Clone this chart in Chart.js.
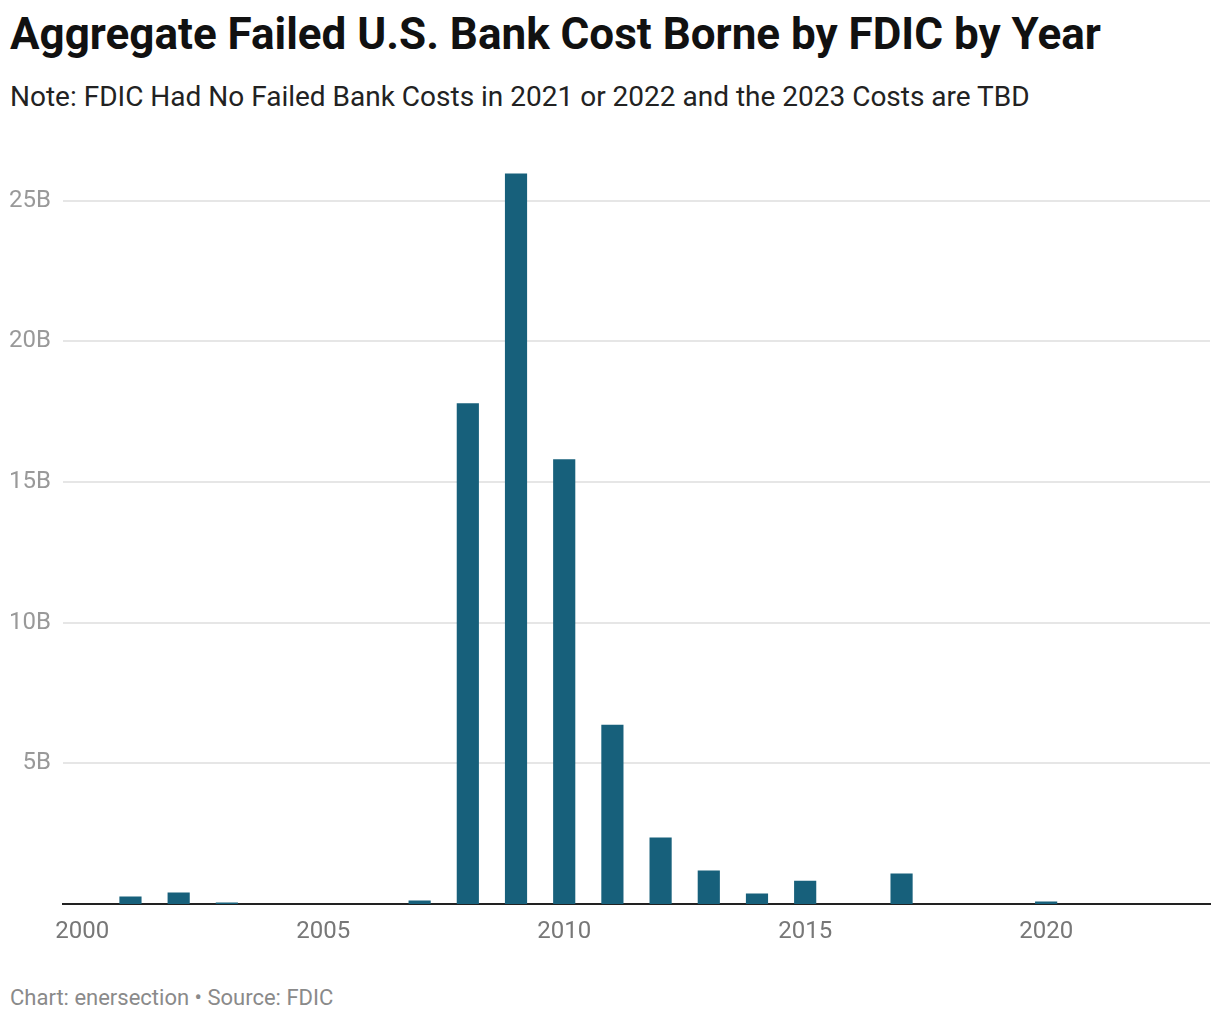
<!DOCTYPE html>
<html>
<head>
<meta charset="utf-8">
<script src="https://cdn.jsdelivr.net/npm/chart.js@4.4.1/dist/chart.umd.min.js"></script>
<style>
  body { margin: 0; background: #fff; font-family: Roboto, sans-serif; }
  #page { position: relative; width: 1220px; height: 1020px; }
  h1 { position: absolute; left: 10px; top: 8px; margin: 0; font-size: 44px; font-weight: 700; color: #111; white-space: nowrap; }
  .sub { position: absolute; left: 10px; top: 80px; font-size: 28px; color: #222; white-space: nowrap; }
  .foot { position: absolute; left: 10px; top: 985px; font-size: 22px; color: #8a8a8a; }
  #wrap { position: absolute; left: 0; top: 146px; width: 1220px; height: 814px; }
</style>
</head>
<body>
<div id="page">
  <h1>Aggregate Failed U.S. Bank Cost Borne by FDIC by Year</h1>
  <div class="sub">Note: FDIC Had No Failed Bank Costs in 2021 or 2022 and the 2023 Costs are TBD</div>
  <div id="wrap"><canvas id="myChart"></canvas></div>
  <div class="foot">Chart: enersection • Source: FDIC</div>
</div>
<script>
// Failed bank cost to FDIC, billions of dollars
const years = [2000, 2001, 2002, 2003, 2004, 2005, 2006, 2007, 2008, 2009, 2010, 2011,
               2012, 2013, 2014, 2015, 2016, 2017, 2018, 2019, 2020, 2021, 2022];
const costs = [0, 0.27, 0.41, 0.05, 0, 0, 0, 0.12, 17.8, 25.96, 15.81, 6.37,
               2.36, 1.19, 0.37, 0.83, 0, 1.08, 0, 0, 0.09, 0, 0];
const xTicks = [2000, 2005, 2010, 2015, 2020];
const yTicks = [5, 10, 15, 20, 25];

const ctx = document.getElementById('myChart').getContext('2d');
const myChart = new Chart(ctx, {
    type: 'bar',
    data: {
        datasets: [{
            label: 'Cost',
            data: years.map((y, i) => ({ x: y, y: costs[i] })),
            backgroundColor: '#17607b',
            barPercentage: 0.46,
            categoryPercentage: 1
        }]
    },
    options: {
        responsive: true,
        maintainAspectRatio: false,
        animation: false,
        layout: { padding: { top: 6, right: 10, left: 0, bottom: 0 } },
        plugins: { legend: { display: false }, tooltip: { enabled: false } },
        scales: {
            x: {
                type: 'linear',
                offset: false,
                min: 1999.6,
                max: 2023.4,
                afterBuildTicks: scale => { scale.ticks = xTicks.map(v => ({ value: v })); },
                afterFit: scale => { scale.height = 56; },
                grid: { display: false, drawTicks: false, offset: false },
                border: { display: true, color: '#222', width: 2 },
                ticks: {
                    padding: 14,
                    color: '#777',
                    font: { family: 'Roboto', size: 24 },
                    callback: v => String(v)
                }
            },
            y: {
                min: 0,
                max: 26,
                afterBuildTicks: scale => { scale.ticks = yTicks.map(v => ({ value: v })); },
                afterFit: scale => { scale.width = 63; },
                grid: { color: '#e6e6e6', lineWidth: 2, drawTicks: false },
                border: { display: false },
                ticks: {
                    padding: 12,
                    color: '#999',
                    font: { family: 'Roboto', size: 24 },
                    callback: v => v + 'B'
                }
            }
        }
    }
});
</script>
</body>
</html>
